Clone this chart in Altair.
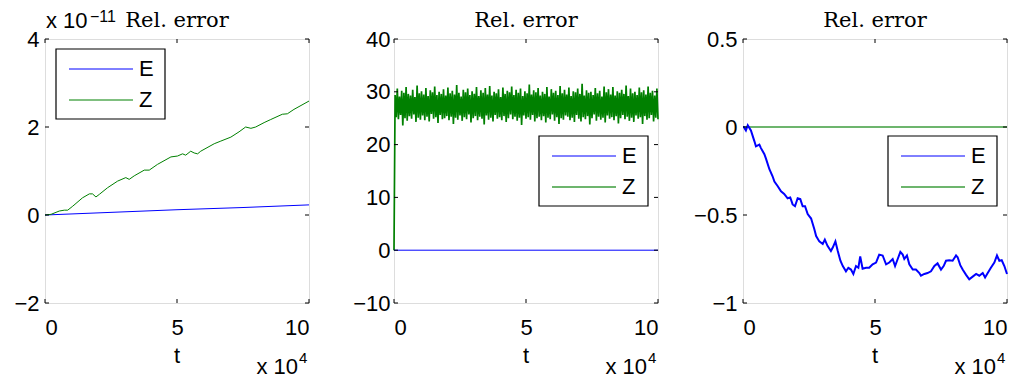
import altair as alt
import pandas as pd

W, H = 264, 264
SANS = "Liberation Sans"
SERIF = "DejaVu Serif"
BLUE = "#0000ff"
GREEN = "#008000"
LIGHT_GREEN = "#6db56d"

series_names = ["E", "Z"]
x_ticks = [0, 5, 10]

# ---------- panel 1 (values x 1e-11, t x 1e4) ----------
p1_e_t = [0, 2.5, 5, 7.5, 10]
p1_e = [0, 0.06, 0.12, 0.17, 0.23]
p1_z_t = [0, 0.23, 0.54, 0.73, 0.86, 1.05, 1.42, 1.68, 1.8, 1.93, 2.06, 2.37, 2.75,
          3.06, 3.19, 3.38, 3.76, 3.95, 4.26, 4.77, 5.02, 5.21, 5.33, 5.52, 5.65,
          5.78, 5.9, 6.41, 6.66, 7.04, 7.35, 7.6, 7.8, 7.98, 8.3, 8.55, 8.99, 9.18,
          9.43, 10.0]
p1_z = [0, 0.015, 0.09, 0.11, 0.11, 0.2, 0.39, 0.48, 0.48, 0.41, 0.47, 0.62, 0.77,
        0.85, 0.81, 0.89, 1.02, 1.02, 1.15, 1.32, 1.34, 1.39, 1.36, 1.45, 1.41,
        1.39, 1.45, 1.62, 1.68, 1.77, 1.89, 2.0, 1.97, 2.0, 2.1, 2.17, 2.29, 2.3,
        2.4, 2.59]
p1_y_ticks = [-2, 0, 2, 4]
p1_y_dom = [-2, 4]

# ---------- panel 2 ----------
p2_e_t = [0, 10]
p2_e = [0, 0]
p2_z = [0,
    29.4, 25.2, 30.6, 24.8, 29.1, 25.6, 30.2, 23.6, 29.8, 25.0, 30.9, 24.5,
    29.6, 25.4, 29.3, 24.9, 30.4, 25.7, 29.0, 24.3, 31.2, 25.1, 29.7, 24.7,
    30.1, 25.5, 29.5, 24.6, 30.7, 25.3, 29.2, 24.4, 30.3, 25.8, 29.9, 24.9,
    31.0, 25.2, 29.4, 24.1, 30.0, 25.6, 29.6, 24.8, 30.5, 25.0, 29.3, 25.4,
    30.8, 24.6, 29.7, 25.3, 30.2, 23.9, 29.5, 25.1, 31.3, 24.7, 29.8, 25.5,
    29.1, 24.5, 30.4, 25.2, 29.9, 24.8, 30.6, 25.7, 29.4, 24.2, 30.1, 25.0,
    29.6, 25.4, 30.9, 24.6, 29.2, 25.3, 30.3, 24.9, 29.8, 23.8, 30.7, 25.5,
    29.5, 24.7, 31.1, 25.1, 29.3, 24.4, 30.0, 25.6, 29.7, 24.9, 30.5, 25.2,
    29.0, 24.6, 30.8, 25.4, 29.6, 24.3, 30.2, 25.0, 29.9, 25.7, 31.0, 24.8,
    29.4, 25.3, 30.4, 24.5, 29.8, 25.1, 30.6, 23.7, 29.2, 25.5, 30.1, 24.9,
    29.7, 25.2, 31.4, 24.7, 29.5, 25.6, 30.3, 24.4, 29.9, 25.0, 30.7, 25.3,
    29.3, 24.6, 30.0, 25.4, 29.6, 24.2, 30.9, 25.1, 29.1, 24.8, 30.5, 25.7,
    29.8, 24.5, 30.2, 25.2, 29.4, 23.9, 31.1, 25.0, 29.7, 24.7, 30.4, 25.5,
    29.5, 25.3, 30.8, 24.6, 29.2, 25.1, 30.1, 24.3, 29.9, 25.6, 30.6, 24.9,
    29.6, 24.4, 31.5, 25.2, 29.3, 24.8, 30.3, 25.4, 29.8, 23.8, 30.0, 25.0,
    29.4, 25.7, 30.7, 24.5, 29.7, 25.3, 30.2, 24.7, 29.1, 25.1, 31.0, 24.2,
    29.9, 25.5, 30.5, 24.9, 29.5, 25.2, 30.9, 24.6, 29.3, 25.4, 30.1, 24.0,
    29.8, 25.0, 30.4, 25.6, 29.6, 24.8, 31.2, 25.3, 29.2, 24.5, 30.6, 25.1,
    29.7, 24.3, 30.0, 25.5, 29.4, 24.9, 30.8, 25.2, 29.9, 23.9, 30.3, 25.4,
    29.5, 24.7, 31.0, 25.0, 29.8, 25.6, 30.2, 24.4, 29.3, 25.1, 30.6, 24.8]
p2_z_t = [i * 10.0 / (len(p2_z) - 1) for i in range(len(p2_z))]
p2_y_ticks = [-10, 0, 10, 20, 30, 40]
p2_y_dom = [-10, 40]

# ---------- panel 3 ----------
p3_e_t = [0, 0.03, 0.11, 0.18, 0.3, 0.43, 0.49, 0.62, 0.68, 0.81, 0.87, 1.0, 1.12,
          1.19, 1.31, 1.44, 1.56, 1.69, 1.79, 1.88, 1.97, 2.07, 2.17, 2.26, 2.35,
          2.45, 2.58, 2.64, 2.7, 2.77, 2.89, 3.02, 3.1, 3.2, 3.33, 3.4, 3.5, 3.59,
          3.69, 3.78, 3.9, 3.99, 4.09, 4.18, 4.28, 4.37, 4.44, 4.53, 4.66, 4.78,
          4.91, 5.04, 5.16, 5.29, 5.42, 5.54, 5.67, 5.76, 5.86, 5.96, 6.05, 6.11,
          6.21, 6.3, 6.43, 6.55, 6.68, 6.74, 6.87, 6.99, 7.12, 7.25, 7.37, 7.5,
          7.6, 7.69, 7.81, 7.94, 8.07, 8.13, 8.23, 8.32, 8.45, 8.57, 8.7, 8.83,
          8.95, 9.08, 9.17, 9.27, 9.39, 9.52, 9.62, 9.71, 9.8, 9.9, 10.0]
p3_e = [0.0, 0.0, -0.02, 0.01, -0.02, -0.08, -0.11, -0.1, -0.12, -0.155, -0.18,
        -0.24, -0.28, -0.31, -0.335, -0.365, -0.38, -0.405, -0.4, -0.44, -0.45,
        -0.405, -0.41, -0.45, -0.45, -0.495, -0.52, -0.55, -0.58, -0.62, -0.65,
        -0.665, -0.64, -0.675, -0.705, -0.685, -0.65, -0.705, -0.76, -0.79, -0.82,
        -0.8, -0.81, -0.835, -0.79, -0.8, -0.735, -0.805, -0.8, -0.8, -0.78, -0.77,
        -0.725, -0.73, -0.78, -0.77, -0.75, -0.79, -0.75, -0.71, -0.725, -0.75,
        -0.73, -0.78, -0.81, -0.81, -0.83, -0.845, -0.835, -0.83, -0.82, -0.79,
        -0.775, -0.81, -0.79, -0.76, -0.757, -0.76, -0.73, -0.74, -0.785, -0.81,
        -0.84, -0.865, -0.85, -0.835, -0.845, -0.83, -0.855, -0.83, -0.8, -0.77,
        -0.73, -0.76, -0.757, -0.79, -0.835]
p3_z_t = [0, 10]
p3_z = [0, 0]
p3_y_ticks = [-1, -0.5, 0, 0.5]
p3_y_dom = [-1, 0.5]

ONE = pd.DataFrame({"k": [0]})


def text_layer(txt, x, y, size, font=SANS, align="left", baseline="alphabetic"):
    return alt.Chart(ONE).mark_text(
        text=txt, font=font, fontSize=size, align=align, baseline=baseline, color="black"
    ).encode(x=alt.value(x), y=alt.value(y))


def panel(lines, y_dom, y_ticks, legend_box, legend_colors, legend_widths,
          label_pad_y=6, top_exp=None):
    xenc = alt.X("t:Q", scale=alt.Scale(domain=[0, 10], nice=False, zero=False),
                 axis=alt.Axis(values=x_ticks, format=".3~r", title=None, grid=False,
                               ticks=False, domain=False, labelPadding=14,
                               labelFont=SANS, labelFontSize=22, labelColor="black"))
    yenc = alt.Y("v:Q", scale=alt.Scale(domain=y_dom, nice=False, zero=False),
                 axis=alt.Axis(values=y_ticks, format=".3~r", title=None, grid=False,
                               ticks=False, domain=False, labelPadding=label_pad_y,
                               labelFont=SANS, labelFontSize=22, labelColor="black"))
    layers = []
    for (ts, vs, color, width) in lines:
        df = pd.DataFrame({"t": ts, "v": vs})
        layers.append(alt.Chart(df).mark_line(color=color, strokeWidth=width)
                      .encode(x=xenc, y=yenc))
    # inward ticks (box style)
    xt = pd.DataFrame({"t": x_ticks})
    yt = pd.DataFrame({"v": y_ticks})
    layers.append(alt.Chart(xt).mark_rule(color="black", strokeWidth=1)
                  .encode(x=xenc, y=alt.value(H), y2=alt.value(H - 4)))
    layers.append(alt.Chart(xt).mark_rule(color="black", strokeWidth=1)
                  .encode(x=xenc, y=alt.value(0), y2=alt.value(4)))
    layers.append(alt.Chart(yt).mark_rule(color="black", strokeWidth=1)
                  .encode(y=yenc, x=alt.value(0), x2=alt.value(4)))
    layers.append(alt.Chart(yt).mark_rule(color="black", strokeWidth=1)
                  .encode(y=yenc, x=alt.value(W), x2=alt.value(W - 4)))
    # legend
    bx, by = legend_box
    layers.append(alt.Chart(ONE).mark_rect(fill="white", stroke="black", strokeWidth=1.2)
                  .encode(x=alt.value(bx), x2=alt.value(bx + 109),
                          y=alt.value(by), y2=alt.value(by + 70)))
    for i, name in enumerate(series_names):
        ly = by + 20 + 31 * i
        layers.append(alt.Chart(ONE).mark_rule(color=legend_colors[i],
                                               strokeWidth=legend_widths[i])
                      .encode(x=alt.value(bx + 13), x2=alt.value(bx + 77),
                              y=alt.value(ly), y2=alt.value(ly)))
        layers.append(text_layer(name, bx + 83, ly, 22, baseline="middle"))
    # texts
    layers.append(text_layer("Rel. error", W / 2, -29, 21, font=SERIF, align="center",
                             baseline="top"))
    layers.append(text_layer("t", W / 2, 324, 22, align="center"))
    layers.append(text_layer("x 10", 253, 335, 22, align="right"))
    layers.append(text_layer("4", 254, 324, 15))
    if top_exp:
        layers.append(text_layer("x 10", 1, -28, 22, baseline="top"))
        layers.append(text_layer(top_exp, 45, -30, 16, baseline="top"))
    return alt.layer(*layers).properties(width=W, height=H)


c1 = panel([(p1_e_t, p1_e, BLUE, 1), (p1_z_t, p1_z, GREEN, 1)],
           p1_y_dom, p1_y_ticks, (11, 10), [BLUE, GREEN], [1, 1], top_exp="\u221211")
c2 = panel([(p2_z_t, p2_z, GREEN, 1.7), (p2_e_t, p2_e, BLUE, 1)],
           p2_y_dom, p2_y_ticks, (145, 97), [BLUE, LIGHT_GREEN], [1, 2], label_pad_y=4)
c3 = panel([(p3_z_t, p3_z, LIGHT_GREEN, 2), (p3_e_t, p3_e, BLUE, 2)],
           p3_y_dom, p3_y_ticks, (145, 97), [BLUE, LIGHT_GREEN], [1, 2])

chart = alt.hconcat(c1, c2, c3, spacing=85, bounds="flush").properties(
    padding={"left": 5, "top": 0, "right": 0, "bottom": 0}
).configure_view(stroke="black", strokeWidth=1.2).configure(background="white")

chart.save("out.html", embed_options={"renderer": "svg", "actions": False})
